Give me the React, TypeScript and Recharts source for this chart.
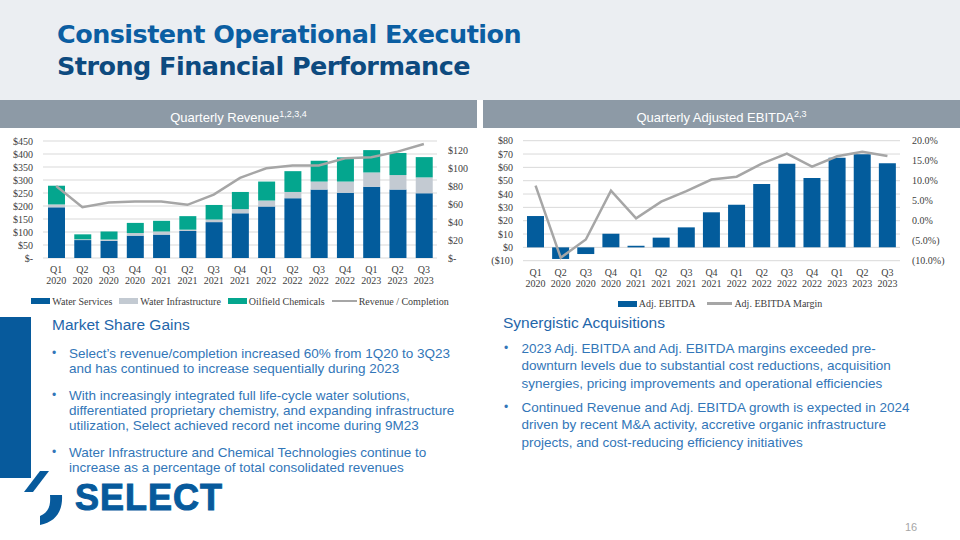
import React from 'react';
import { ComposedChart, Bar, Line, XAxis, YAxis, CartesianGrid, Legend } from 'recharts';

// ---------- data ----------
const quarters = [
  'Q1 2020', 'Q2 2020', 'Q3 2020', 'Q4 2020',
  'Q1 2021', 'Q2 2021', 'Q3 2021', 'Q4 2021',
  'Q1 2022', 'Q2 2022', 'Q3 2022', 'Q4 2022',
  'Q1 2023', 'Q2 2023', 'Q3 2023',
];
const waterServices = [195, 69, 66, 86, 90, 104, 138, 172, 198, 230, 263, 251, 274, 263, 249];
const waterInfrastructure = [11, 3, 5, 10, 12, 5, 10, 16, 23, 24, 31, 43, 55, 56, 61];
const oilfieldChemicals = [72, 19, 31, 39, 41, 52, 56, 66, 73, 80, 80, 93, 86, 85, 78];
const revenuePerCompletion = [80, 56.5, 61.7, 62.8, 62.8, 59.1, 70.5, 89, 99.7, 102.7, 102.7, 110.8, 111.9, 118.2, 126.7];

const adjEbitda = [23.5, -8.7, -5, 10.3, 1.2, 7.3, 15, 26.3, 32, 47.5, 62.8, 52, 67.2, 69.8, 63];
const adjEbitdaMargin = [8.75, -9.25, -4.7, 7.5, 0.6, 4.75, 7.4, 10.3, 11, 14.25, 16.75, 13.5, 16.1, 17.25, 16.2];

const revLeftTicks = [0, 50, 100, 150, 200, 250, 300, 350, 400, 450];
const revRightTicks = [0, 20, 40, 60, 80, 100, 120];
const ebitdaLeftTicks = [-10, 0, 10, 20, 30, 40, 50, 60, 70, 80];
const marginTicks = [-10, -5, 0, 5, 10, 15, 20];

const revenueData = quarters.map((q, i) => ({
  q,
  ws: waterServices[i],
  wi: waterInfrastructure[i],
  oc: oilfieldChemicals[i],
  rpc: revenuePerCompletion[i],
}));
const ebitdaData = quarters.map((q, i) => ({ q, eb: adjEbitda[i], mg: adjEbitdaMargin[i] }));

// ---------- style ----------
const BLUE = '#035c9c';
const GREY_BAR = '#c3cad2';
const TEAL = '#04a68e';
const LINE_GREY = '#a6a6a6';
const GRID = '#d9d9d9';
const SERIF = '"Liberation Serif", "Times New Roman", serif';
const SANS = '"Liberation Sans", Arial, sans-serif';
const AXIS_TEXT = '#404040';

const revenueLegend = [
  { label: 'Water Services', color: BLUE, type: 'rect' },
  { label: 'Water Infrastructure', color: GREY_BAR, type: 'rect' },
  { label: 'Oilfield Chemicals', color: TEAL, type: 'rect' },
  { label: 'Revenue / Completion', color: LINE_GREY, type: 'line' },
];
const ebitdaLegend = [
  { label: 'Adj. EBITDA', color: BLUE, type: 'rect' },
  { label: 'Adj. EBITDA Margin', color: LINE_GREY, type: 'line' },
];

const tickStyle = { fontFamily: SERIF, fontSize: 10, fill: AXIS_TEXT };

const QuarterTick = (props: any) => {
  const { x, y, payload } = props;
  const [a, b] = String(payload.value).split(' ');
  return (
    <g transform={`translate(${x},${y})`}>
      <text textAnchor="middle" fontFamily={SERIF} fontSize={10} fill={AXIS_TEXT}>
        <tspan x={0} y={7}>{a}</tspan>
        <tspan x={0} y={18.3}>{b}</tspan>
      </text>
    </g>
  );
};

const LegendRow = ({ items, gap }: any) => (
  <div
    style={{
      display: 'flex',
      justifyContent: 'center',
      alignItems: 'center',
      height: 14,
      fontFamily: SERIF,
      fontSize: 10,
      color: AXIS_TEXT,
      whiteSpace: 'nowrap',
    }}
  >
    {items.map((it: any, i: number) => (
      <div key={i} style={{ display: 'flex', alignItems: 'center', marginLeft: i === 0 ? 0 : gap }}>
        {it.type === 'line' ? (
          <div style={{ width: 25, height: 2.5, background: it.color }} />
        ) : (
          <div style={{ width: 19, height: 6, background: it.color }} />
        )}
        <span style={{ marginLeft: 2 }}>{it.label}</span>
      </div>
    ))}
  </div>
);

const fmtRevLeft = (v: number) => (v === 0 ? '$-' : `$${v}`);
const fmtRevRight = (v: number) => (v === 0 ? '$-' : `$${v}`);
const fmtEbitda = (v: number) => (v < 0 ? `($${-v})` : `$${v}`);
const fmtMargin = (v: number) => (v < 0 ? `(${(-v).toFixed(1)}%)` : `${v.toFixed(1)}%`);

const RevenueChart = () => (
  <ComposedChart
    width={480}
    height={182}
    data={revenueData}
    margin={{ top: 11, right: 0, left: 0, bottom: 4 }}
  >
    <CartesianGrid yAxisId="l" vertical={false} stroke={GRID} strokeWidth={1} />
    <XAxis dataKey="q" interval={0} tickLine={false} axisLine={false} height={36} tick={<QuarterTick />} />
    <YAxis
      yAxisId="l"
      orientation="left"
      width={43}
      domain={[0, 450]}
      ticks={revLeftTicks}
      tickFormatter={fmtRevLeft}
      tickLine={false}
      axisLine={false}
      tickMargin={4}
      tick={tickStyle}
      interval={0}
    />
    <YAxis
      yAxisId="r"
      orientation="right"
      width={43}
      domain={[0, 130]}
      ticks={revRightTicks}
      tickFormatter={fmtRevRight}
      tickLine={false}
      axisLine={false}
      tickMargin={5}
      tick={{ ...tickStyle, textAnchor: 'start' }}
      interval={0}
    />
    <Bar yAxisId="l" dataKey="ws" name="Water Services" stackId="a" fill={BLUE} barSize={17} isAnimationActive={false} />
    <Bar yAxisId="l" dataKey="wi" name="Water Infrastructure" stackId="a" fill={GREY_BAR} barSize={17} isAnimationActive={false} />
    <Bar yAxisId="l" dataKey="oc" name="Oilfield Chemicals" stackId="a" fill={TEAL} barSize={17} isAnimationActive={false} />
    <Line
      yAxisId="r"
      dataKey="rpc"
      name="Revenue / Completion"
      type="linear"
      stroke={LINE_GREY}
      strokeWidth={2.5}
      dot={false}
      activeDot={false}
      isAnimationActive={false}
    />
    <Legend verticalAlign="bottom" content={() => <LegendRow items={revenueLegend} gap={7} />} />
  </ComposedChart>
);

const EbitdaChart = () => (
  <ComposedChart
    width={480}
    height={182}
    data={ebitdaData}
    margin={{ top: 10.7, right: 0, left: 0, bottom: 1.5 }}
  >
    <CartesianGrid yAxisId="l" vertical={false} stroke={GRID} strokeWidth={1} />
    <XAxis dataKey="q" interval={0} tickLine={false} axisLine={false} height={35.8} tick={<QuarterTick />} />
    <YAxis
      yAxisId="l"
      orientation="left"
      width={43}
      domain={[-10, 80]}
      ticks={ebitdaLeftTicks}
      tickFormatter={fmtEbitda}
      tickLine={false}
      axisLine={false}
      tickMargin={4}
      tick={tickStyle}
      interval={0}
    />
    <YAxis
      yAxisId="r"
      orientation="right"
      width={60}
      domain={[-10, 20]}
      ticks={marginTicks}
      tickFormatter={fmtMargin}
      tickLine={false}
      axisLine={false}
      tickMargin={6}
      tick={{ ...tickStyle, textAnchor: 'start' }}
      interval={0}
    />
    <Bar yAxisId="l" dataKey="eb" name="Adj. EBITDA" fill={BLUE} barSize={17} isAnimationActive={false} />
    <Line
      yAxisId="r"
      dataKey="mg"
      name="Adj. EBITDA Margin"
      type="linear"
      stroke={LINE_GREY}
      strokeWidth={2.5}
      dot={false}
      activeDot={false}
      isAnimationActive={false}
    />
    <Legend verticalAlign="bottom" content={() => <LegendRow items={ebitdaLegend} gap={12} />} />
  </ComposedChart>
);

// ---------- text ----------
const titleLines = ['Consistent Operational Execution', 'Strong Financial Performance'];
const leftHeading = 'Market Share Gains';
const leftBullets = [
  ['Select\u2019s revenue/completion increased 60% from 1Q20 to 3Q23', 'and has continued to increase sequentially during 2023'],
  [
    'With increasingly integrated full life-cycle water solutions,',
    'differentiated proprietary chemistry, and expanding infrastructure',
    'utilization, Select achieved record net income during 9M23',
  ],
  ['Water Infrastructure and Chemical Technologies continue to', 'increase as a percentage of total consolidated revenues'],
];
const rightHeading = 'Synergistic Acquisitions';
const rightBullets = [
  [
    '2023 Adj. EBITDA and Adj. EBITDA margins exceeded pre-',
    'downturn levels due to substantial cost reductions, acquisition',
    'synergies, pricing improvements and operational efficiencies',
  ],
  [
    'Continued Revenue and Adj. EBITDA growth is expected in 2024',
    'driven by recent M&A activity, accretive organic infrastructure',
    'projects, and cost-reducing efficiency initiatives',
  ],
];

const HEAD_COLOR = '#1f66aa';
const BODY_COLOR = '#3276b8';
const BODY_SIZE = 13.5;

const BulletBlock = ({ lines, top, left, textLeft, lh }: any) => (
  <div style={{ position: 'absolute', top, left: 0, width: 480 }}>
    <div style={{ position: 'absolute', left, top: 0, lineHeight: `${lh}px`, fontSize: 12, color: BODY_COLOR }}>
      {'\u2022'}
    </div>
    <div
      style={{
        position: 'absolute',
        left: textLeft,
        top: 0,
        lineHeight: `${lh}px`,
        fontSize: BODY_SIZE,
        color: BODY_COLOR,
        whiteSpace: 'nowrap',
      }}
    >
      {lines.map((l: string, i: number) => (
        <div key={i}>{l}</div>
      ))}
    </div>
  </div>
);

export default function App() {
  const titleStyle: any = {
    position: 'absolute',
    left: 57,
    fontFamily: '"DejaVu Sans", sans-serif',
    fontWeight: 700,
    fontSize: 25.5,
    lineHeight: '30px',
    letterSpacing: -0.55,
    whiteSpace: 'nowrap',
  };
  return (
    <div
      style={{
        position: 'fixed',
        left: 0,
        top: 0,
        width: 960,
        height: 540,
        background: '#ffffff',
        overflow: 'hidden',
        fontFamily: SANS,
      }}
    >
      {/* header */}
      <div style={{ position: 'absolute', left: 0, top: 0, width: 960, height: 100, background: '#ebeef2' }} />
      <div style={{ ...titleStyle, top: 19, color: '#0b5ea2' }}>{titleLines[0]}</div>
      <div style={{ ...titleStyle, top: 51, color: '#0d4a7f' }}>{titleLines[1]}</div>

      {/* section bars */}
      <div
        style={{
          position: 'absolute',
          left: 0,
          top: 100,
          width: 477,
          height: 28,
          background: '#8d9aa6',
          color: '#fff',
          fontSize: 13,
          lineHeight: '28px',
          textAlign: 'center',
        }}
      >
        Quarterly Revenue<span style={{ fontSize: 9, verticalAlign: 5 }}>1,2,3,4</span>
      </div>
      <div
        style={{
          position: 'absolute',
          left: 483,
          top: 100,
          width: 477,
          height: 28,
          background: '#8d9aa6',
          color: '#fff',
          fontSize: 13,
          lineHeight: '28px',
          textAlign: 'center',
        }}
      >
        Quarterly Adjusted EBITDA<span style={{ fontSize: 9, verticalAlign: 5 }}>2,3</span>
      </div>

      {/* charts */}
      <div style={{ position: 'absolute', left: 0, top: 130, width: 480, height: 182 }}>
        <RevenueChart />
      </div>
      <div style={{ position: 'absolute', left: 480, top: 130, width: 480, height: 182 }}>
        <EbitdaChart />
      </div>

      {/* left text */}
      <div style={{ position: 'absolute', left: 0, top: 317, width: 31, height: 161, background: '#075a9c' }} />
      <div
        style={{
          position: 'absolute',
          left: 52,
          top: 315,
          fontSize: 15.5,
          lineHeight: '20px',
          color: HEAD_COLOR,
          whiteSpace: 'nowrap',
        }}
      >
        {leftHeading}
      </div>
      <BulletBlock lines={leftBullets[0]} top={345.8} left={52} textLeft={69} lh={15} />
      <BulletBlock lines={leftBullets[1]} top={388.2} left={52} textLeft={69} lh={15} />
      <BulletBlock lines={leftBullets[2]} top={445.2} left={52} textLeft={69} lh={15} />

      {/* right text */}
      <div
        style={{
          position: 'absolute',
          left: 503,
          top: 313.3,
          fontSize: 15.5,
          lineHeight: '20px',
          color: HEAD_COLOR,
          whiteSpace: 'nowrap',
        }}
      >
        {rightHeading}
      </div>
      <div style={{ position: 'absolute', left: 480, top: 0 }}>
        <BulletBlock lines={rightBullets[0]} top={339.5} left={24} textLeft={41.5} lh={17.7} />
        <BulletBlock lines={rightBullets[1]} top={398.5} left={24} textLeft={41.5} lh={17.7} />
      </div>

      {/* logo */}
      <svg style={{ position: 'absolute', left: 0, top: 460 }} width={240} height={80}>
        <path d="M40 11 L49 11 L33 32 L24 32 Z" fill="#075a9c" />
        <path d="M50 35 L62 35 C63 52 55 62 40 65 L40 56 C48 53 51 46 50 35 Z" fill="#075a9c" />
        <text
          x={75}
          y={50}
          fontFamily={SANS}
          fontWeight={700}
          fontSize={36}
          fill="#075a9c"
          stroke="#075a9c"
          strokeWidth={1}
          letterSpacing={1}
        >
          SELECT
        </text>
      </svg>

      {/* page number */}
      <div style={{ position: 'absolute', left: 905, top: 520, fontSize: 11, color: '#a6a6a6', lineHeight: '14px' }}>16</div>
    </div>
  );
}
